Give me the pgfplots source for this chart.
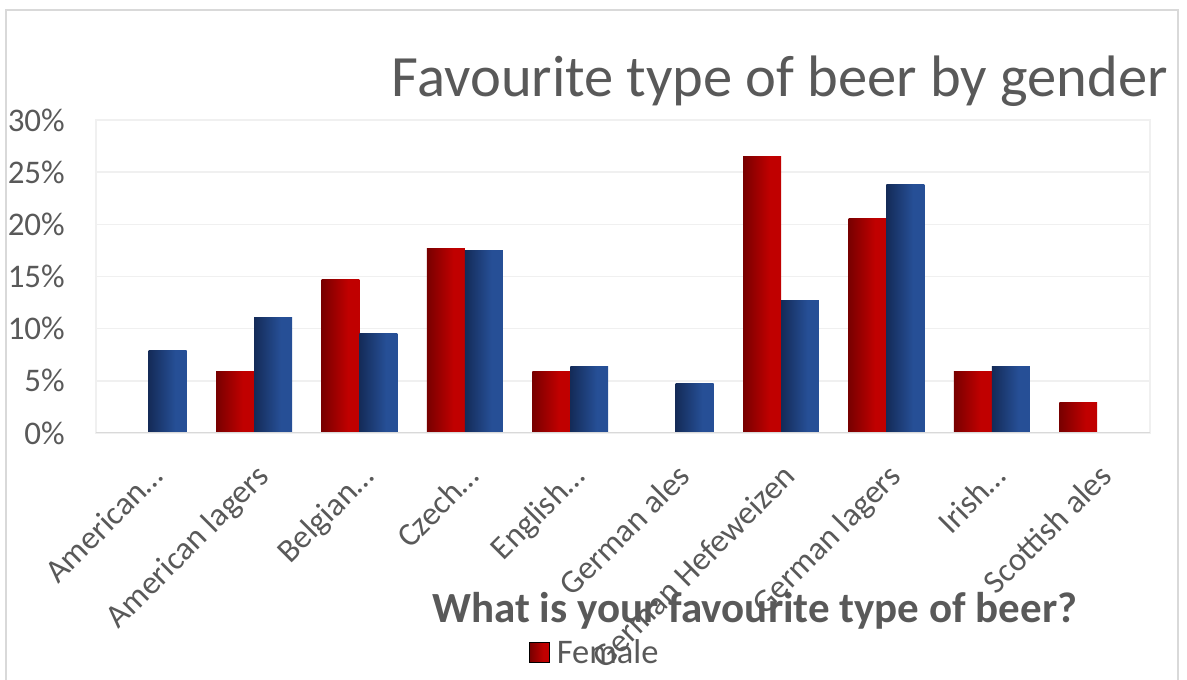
\documentclass[border=0pt]{standalone}
\usepackage{pgfplots}
\pgfplotsset{compat=1.18}
\usepackage{fontspec}
\setmainfont{Carlito}
\definecolor{txt}{HTML}{595959}
\definecolor{gridc}{HTML}{F0F0F0}
\definecolor{axisc}{HTML}{D9D9D9}
\definecolor{framec}{HTML}{D9D9D9}
\definecolor{rdark}{HTML}{780000}
\definecolor{rlight}{HTML}{C00000}
\definecolor{bdark}{HTML}{142B58}
\definecolor{blight}{HTML}{264F96}
\pgfdeclarehorizontalshading{redbar}{100bp}{color(0bp)=(rdark); color(25bp)=(rdark); color(60bp)=(rlight); color(100bp)=(rlight)}
\pgfdeclarehorizontalshading{bluebar}{100bp}{color(0bp)=(bdark); color(25bp)=(bdark); color(60bp)=(blight); color(100bp)=(blight)}
\pgfplotsset{
  fem/.style={ybar, bar width=0.36, bar shift=-0.18, draw=none, shading=redbar, forget plot},
  mal/.style={ybar, bar width=0.36, bar shift=0.18, draw=none, shading=bluebar, forget plot},
}
\begin{document}
\begin{tikzpicture}[x=1pt,y=1pt]
\useasboundingbox (0,0) rectangle (1187,680);
\draw[color=framec, line width=1.5pt] (6,-20) rectangle (1178,670);
\node[anchor=base east, text=txt, font=\fontsize{58.5}{62}\selectfont, inner sep=0pt] at (1168,583) {Favourite type of beer by gender};
\begin{axis}[
  at={(96pt,247pt)}, anchor=south west,
  width=1054pt, height=313pt, scale only axis,
  xmin=-0.5, xmax=9.5, ymin=0, ymax=30,
  ytick={0,5,10,15,20,25,30},
  yticklabels={0\%,5\%,10\%,15\%,20\%,25\%,30\%},
  xtick={0,1,2,3,4,5,6,7,8,9},
  xticklabels={American…,American lagers,Belgian…,Czech…,English…,German ales,German Hefeweizen,German lagers,Irish…,Scottish ales},
  major tick length=0pt,
  ymajorgrids, grid style={color=gridc, line width=1.5pt},
  axis line style={draw=gridc, line width=1.5pt},
  ticklabel style={font=\fontsize{33}{36}\selectfont, text=txt, inner sep=0pt},
  yticklabel style={anchor=east, xshift=-31pt},
  xticklabel style={yshift=-29pt, rotate=45, anchor=north east},
  xlabel={What is your favourite type of beer?},
  x label style={at={(axis description cs:0.625,-0.607)}, anchor=base, font=\bfseries\fontsize{43}{46}\selectfont, text=txt, inner sep=0pt},
  legend style={at={(axis description cs:0.411,-0.70)}, anchor=west, draw=none, fill=none, font=\fontsize{34.5}{37}\selectfont, text=txt, inner sep=0pt, /tikz/every odd column/.style={column sep=5pt}},
]
\addlegendimage{legend image code/.code={\shade[shading=redbar] (0pt,-10pt) rectangle (20pt,10pt);}}
\addlegendentry{Female}
% Female
\addplot[fem] coordinates {(1,5.88)};
\addplot[fem] coordinates {(2,14.71)};
\addplot[fem] coordinates {(3,17.65)};
\addplot[fem] coordinates {(4,5.88)};
\addplot[fem] coordinates {(6,26.47)};
\addplot[fem] coordinates {(7,20.59)};
\addplot[fem] coordinates {(8,5.88)};
\addplot[fem] coordinates {(9,2.94)};
% Male
\addplot[mal] coordinates {(0,7.94)};
\addplot[mal] coordinates {(1,11.11)};
\addplot[mal] coordinates {(2,9.52)};
\addplot[mal] coordinates {(3,17.46)};
\addplot[mal] coordinates {(4,6.35)};
\addplot[mal] coordinates {(5,4.76)};
\addplot[mal] coordinates {(6,12.70)};
\addplot[mal] coordinates {(7,23.81)};
\addplot[mal] coordinates {(8,6.35)};
\draw[axisc, line width=2pt] (axis cs:-0.5,0) -- (axis cs:9.5,0);
\end{axis}
\end{tikzpicture}
\end{document}
